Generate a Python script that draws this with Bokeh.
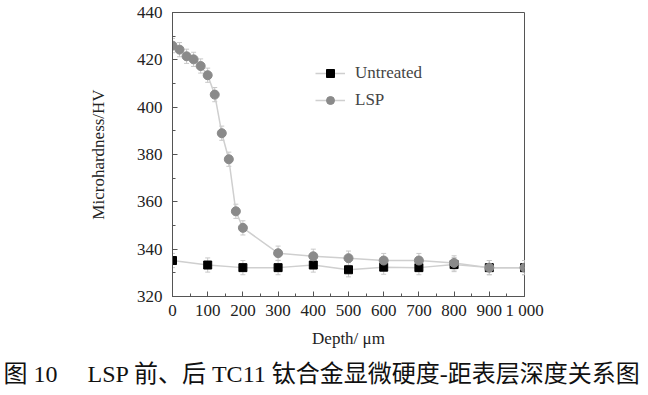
from bokeh.plotting import figure
from bokeh.models import (Range1d, Legend, LegendItem, Title, Whisker, ColumnDataSource,
                          FixedTicker)
from bokeh.embed import file_html
from bokeh.resources import INLINE

depth_lsp = [0, 20, 40, 60, 80, 100, 120, 140, 160, 180, 200, 300, 400, 500, 600, 700, 800, 900, 1000]
hv_lsp = [426, 424.3, 421.5, 420.2, 417.4, 413.5, 405.3, 389, 378, 356, 349, 338.3, 337, 336.2, 335.2, 335.2, 334.2, 332.2, 332.2]
depth_un = [0, 100, 200, 300, 400, 500, 600, 700, 800, 900, 1000]
hv_un = [335.2, 333.3, 332.2, 332.2, 333.3, 331.3, 332.4, 332.2, 333.5, 332.2, 332.2]
err = 3.0

serif = "Liberation Serif"

p = figure(width=640, height=395, output_backend="svg", toolbar_location=None,
           x_range=Range1d(0, 1000), y_range=Range1d(320, 440),
           min_border_left=172, min_border_right=116, min_border_top=12, min_border_bottom=10)
p.grid.visible = False
p.outline_line_color = "#555555"
p.outline_line_width = 1

for src_x, src_y in [(depth_lsp, hv_lsp), (depth_un, hv_un)]:
    s = ColumnDataSource(dict(x=src_x, lo=[v - err for v in src_y], hi=[v + err for v in src_y]))
    w = Whisker(base="x", lower="lo", upper="hi", source=s, line_color="#c8c8c8", line_width=1)
    w.upper_head.size = 5
    w.lower_head.size = 5
    w.upper_head.line_color = "#c8c8c8"
    w.lower_head.line_color = "#c8c8c8"
    p.add_layout(w)

l1 = p.line(depth_un, hv_un, line_color="#cfcfcf", line_width=1.5)
m1 = p.scatter(depth_un, hv_un, marker="square", size=8, fill_color="black", line_color="black")
l2 = p.line(depth_lsp, hv_lsp, line_color="#cfcfcf", line_width=1.5)
m2 = p.scatter(depth_lsp, hv_lsp, marker="circle", size=9, fill_color="#8a8a8a", line_color="#8a8a8a")

legend = Legend(items=[LegendItem(label="Untreated", renderers=[l1, m1]),
                       LegendItem(label="LSP", renderers=[l2, m2])],
                location=(143, 186), border_line_color=None, background_fill_alpha=0,
                label_text_font=serif, label_text_font_size="17px", glyph_width=30,
                spacing=7, label_standoff=10)
p.add_layout(legend)

for ax in (p.xaxis[0], p.yaxis[0]):
    ax.major_tick_in = 5
    ax.major_tick_out = 0
    ax.minor_tick_in = 3
    ax.minor_tick_out = 0
    ax.axis_line_color = "#555555"
    ax.major_tick_line_color = "#555555"
    ax.minor_tick_line_color = "#555555"
    ax.major_label_text_font = serif
    ax.major_label_text_font_size = "17px"
    ax.major_label_text_color = "#222222"
    ax.axis_label_text_font = serif
    ax.axis_label_text_font_size = "17px"
    ax.axis_label_text_font_style = "normal"
    ax.axis_label_text_color = "#222222"

p.xaxis[0].ticker = FixedTicker(ticks=list(range(0, 1001, 100)), minor_ticks=list(range(0, 1001, 50)))
p.yaxis[0].ticker = FixedTicker(ticks=list(range(320, 441, 20)), minor_ticks=list(range(320, 441, 10)))
p.xaxis[0].major_label_overrides = {1000: "1 000"}
p.xaxis[0].axis_label = "Depth/ \u03bcm"
p.yaxis[0].axis_label = "Microhardness/HV"
p.xaxis[0].major_label_standoff = 4
p.xaxis[0].axis_label_standoff = 6
p.yaxis[0].major_label_standoff = 10
p.yaxis[0].axis_label_standoff = 26

cap = Title(text="图 10\u3000 LSP 前、后 TC11 钛合金显微硬度-距表层深度关系图", align="left",
            offset=-169, text_font="'Liberation Serif', 'Noto Sans CJK SC'", text_font_size="24px",
            text_font_style="normal", text_color="#111111", standoff=17)
p.add_layout(cap, "below")

open("out.html", "w").write(file_html(p, INLINE))
